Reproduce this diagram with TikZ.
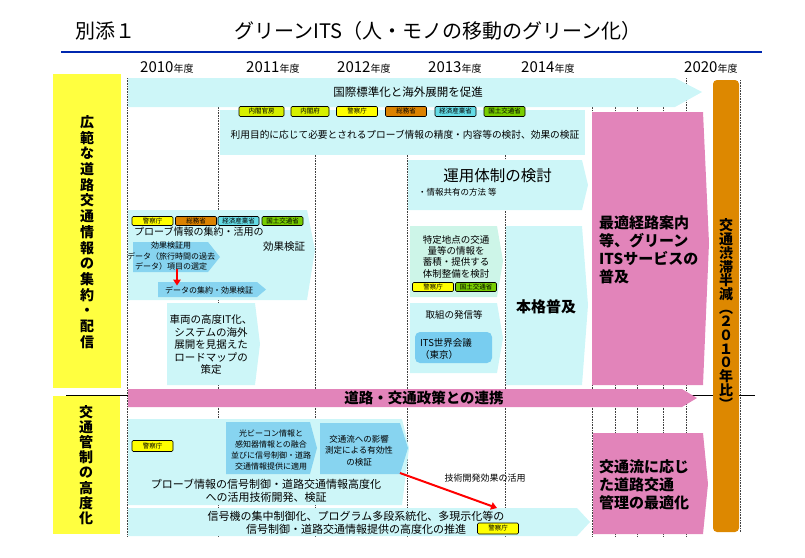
\documentclass[tikz,border=0pt]{standalone}
\usepackage{fontspec}
\setmainfont{Noto Sans CJK JP}
\usepackage{tikz}
\usetikzlibrary{arrows.meta}
\definecolor{itscyan}{RGB}{205,246,248}
\definecolor{deepcyan}{RGB}{135,212,240}
\definecolor{itsblue}{RGB}{120,205,240}
\definecolor{mint}{RGB}{205,245,232}
\definecolor{itspink}{RGB}{226,132,186}
\definecolor{itsorange}{RGB}{221,136,0}
\definecolor{itsyellow}{RGB}{255,255,64}
\definecolor{titleblue}{RGB}{0,40,175}
\definecolor{tagyellow}{RGB}{255,255,0}
\definecolor{taglime}{RGB}{215,240,0}
\definecolor{tagorange}{RGB}{220,130,0}
\definecolor{tagcyan}{RGB}{100,220,230}
\definecolor{taggreen}{RGB}{120,205,0}

\begin{document}
\begin{tikzpicture}[
    x=1pt, y=-1pt,
    every node/.style={inner sep=0pt},
    gridline/.style={densely dotted, line width=0.6pt, black!75},
    yeartxt/.style={font=\fontsize{15}{15}\selectfont},
    vtxt/.style={align=center, font=\fontsize{14}{15.7}\selectfont\bfseries},
    tinytxt/.style={align=center, font=\fontsize{8}{10.5}\selectfont},
    smalltxt/.style={align=center, font=\fontsize{9.5}{11.3}\selectfont},
    bodytxt/.style={align=center, font=\fontsize{11}{13}\selectfont},
    headtxt/.style={align=left, font=\fontsize{15}{18}\selectfont\bfseries},
    tag/.style={rectangle, draw, rounded corners=1.2pt, line width=0.6pt, minimum width=41pt, minimum height=10pt, font=\fontsize{6.5}{7}\selectfont},
    cabinet/.style={tag, fill=taglime},
    npa/.style={tag, fill=tagyellow},
    mic/.style={tag, fill=tagorange},
    meti/.style={tag, fill=tagcyan},
    mlit/.style={tag, fill=taggreen},
    redarrow/.style={red, line width=2pt, -{Triangle[length=6pt,width=7.5pt]}}
]
    \useasboundingbox (0,0) rectangle (805,557);

    % Title
    \node[anchor=west, font=\fontsize{20}{20}\selectfont] (annex) at (75,31) {別添１};
    \node[font=\fontsize{20}{20}\selectfont] (title) at (438,31) {グリーンITS（人・モノの移動のグリーン化）};
    \draw[titleblue, line width=2.2pt] (61,52) -- (762,52);

    % Years
    \node[yeartxt, anchor=west] (y2010) at (140,67) {2010{\fontsize{10}{10}\selectfont 年度}};
    \node[yeartxt, anchor=west] (y2011) at (246,67) {2011{\fontsize{10}{10}\selectfont 年度}};
    \node[yeartxt, anchor=west] (y2012) at (337,67) {2012{\fontsize{10}{10}\selectfont 年度}};
    \node[yeartxt, anchor=west] (y2013) at (428,67) {2013{\fontsize{10}{10}\selectfont 年度}};
    \node[yeartxt, anchor=west] (y2014) at (521,67) {2014{\fontsize{10}{10}\selectfont 年度}};
    \node[yeartxt, anchor=west] (y2020) at (684,67) {2020{\fontsize{10}{10}\selectfont 年度}};

    % Grid
    \draw[gridline] (127,78) -- (127,536);
    \draw[gridline] (218,78) -- (218,536);
    \draw[gridline] (315,78) -- (315,536);
    \draw[gridline] (407,78) -- (407,536);
    \draw[gridline] (505,78) -- (505,536);
    \draw[gridline] (592,78) -- (592,536);
    \draw[gridline] (615,78) -- (615,536);
    \draw[gridline] (637,78) -- (637,536);
    \draw[gridline] (663,78) -- (663,536);
    \draw[gridline] (686,78) -- (686,536);
    \draw[gridline] (740,80) -- (740,532);

    % Left headers
    \fill[itsyellow] (53,74) rectangle (121,388);
    \fill[itsyellow] (53,396) rectangle (120,534);
    \node[vtxt] (wideinfo) at (87,232) {広\\範\\な\\道\\路\\交\\通\\情\\報\\の\\集\\約\\・\\配\\信};
    \node[vtxt, font=\fontsize{14}{15.2}\selectfont\bfseries] (ctrl) at (86,465) {交\\通\\管\\制\\の\\高\\度\\化};
    \draw[line width=0.8pt] (66,395) -- (128,395);
    \draw[line width=0.8pt] (690,395) -- (755,395);

    % Upper section boxes
    \fill[itscyan] (128,78) -- (675,78) -- (702,92) -- (675,107) -- (128,107) -- cycle;
    \fill[itscyan] (220,110) rectangle (585,155);
    \fill[itscyan] (408,160) -- (582,160) -- (588,185) -- (582,210) -- (408,210) -- cycle;
    \fill[itscyan] (128,210) -- (307,210) -- (315,250) -- (307,300) -- (128,300) -- cycle;
    \fill[deepcyan] (133,242) -- (208,242) -- (220,257) -- (208,272) -- (133,272) -- cycle;
    \fill[deepcyan] (158,282) -- (257,282) -- (266,289.5) -- (257,297) -- (158,297) -- cycle;
    \fill[itscyan] (167,303) -- (255,303) -- (260,344) -- (255,385) -- (167,385) -- cycle;
    \fill[mint] (410,226) -- (497,226) -- (503,261) -- (497,297) -- (410,297) -- cycle;
    \fill[itscyan] (410,303) -- (497,303) -- (503,338) -- (497,373) -- (410,373) -- cycle;
    \fill[itsblue, rounded corners=5pt] (415,332) rectangle (492,363);
    \fill[itscyan] (506,226) -- (582,226) -- (588,305) -- (582,385) -- (506,385) -- cycle;
    \fill[itspink] (592,112) -- (703,112) -- (709,243) -- (703,385) -- (592,385) -- cycle;
    \fill[itsorange, rounded corners=4pt] (713,80) rectangle (739,532);

    % Upper section texts
    \node[font=\fontsize{11.5}{13}\selectfont] (promote) at (408,92) {国際標準化と海外展開を促進};
    \node[cabinet, minimum width=45pt] (tcas) at (261.5,111.5) {内閣官房};
    \node[cabinet, minimum width=38pt] (tcao) at (310,111.5) {内閣府};
    \node[npa] (tnpa1) at (357,111.5) {警察庁};
    \node[mic] (tmic1) at (406,111.5) {総務省};
    \node[meti] (tmeti1) at (455.5,111.5) {経済産業省};
    \node[mlit] (tmlit1) at (504.5,111.5) {国土交通省};
    \node[font=\fontsize{9.7}{11}\selectfont] (purpose) at (405,135) {利用目的に応じて必要とされるプローブ情報の精度・内容等の検討、効果の検証};

    \node[font=\fontsize{15.5}{17}\selectfont] (operation) at (497.5,176) {運用体制の検討};
    \node[anchor=west, font=\fontsize{8.5}{10}\selectfont] (sharing) at (418,192) {・情報共有の方法\ 等};

    \node[npa, minimum height=9pt] (tnpa2) at (152.5,221) {警察庁};
    \node[mic, minimum height=9pt] (tmic2) at (196,221) {総務省};
    \node[meti, minimum height=9pt] (tmeti2) at (238.5,221) {経済産業省};
    \node[mlit, minimum height=9pt] (tmlit2) at (282.5,221) {国土交通省};
    \node[anchor=west, font=\fontsize{10}{12}\selectfont] (probe) at (134,232) {プローブ情報の集約・活用の};
    \node[font=\fontsize{10.5}{12}\selectfont] (effect) at (284,247) {効果検証};
    \node[tinytxt] (select) at (171,256.5) {効果検証用\\データ（旅行時間の過去\\データ）項目の選定};
    \node[tinytxt] (aggregate) at (209,290) {データの集約・効果検証};
    \coordinate (selbot) at (177,269);
    \coordinate (aggtop) at (177,285.5);
    \draw[redarrow] (selbot) -- (aggtop);
    \node[align=center, font=\fontsize{10.5}{12.5}\selectfont] (roadmap) at (211,345) {車両の高度IT化、\\システムの海外\\展開を見据えた\\ロードマップの\\策定};

    \node[smalltxt] (spot) at (456,256.5) {特定地点の交通\\量等の情報を\\蓄積・提供する\\体制整備を検討};
    \node[npa, minimum height=9pt] (tnpa3) at (433,287) {警察庁};
    \node[mlit, minimum height=9pt] (tmlit3) at (476,287) {国土交通省};
    \node[smalltxt] (outreach) at (454,315) {取組の発信等};
    \node[smalltxt, anchor=west, align=left, font=\fontsize{9.5}{12}\selectfont] (congress) at (420,349) {ITS世界会議\\（東京）};
    \node[font=\fontsize{15}{17}\selectfont\bfseries] (spread) at (546,307) {本格普及};

    \node[headtxt, anchor=west] (green) at (599,250) {最適経路案内\\等、グリーン\\ITSサービスの\\普及};
    \node[vtxt, font=\fontsize{14}{13.7}\selectfont\bfseries] (halve) at (726,314) {交\\通\\渋\\滞\\半\\減\\︵\\２\\０\\１\\０\\年\\比\\︶};

    % Policy link
    \fill[itspink] (128,389) -- (682,389) -- (697,398) -- (682,407) -- (128,407) -- cycle;
    \node[font=\fontsize{14.5}{16}\selectfont\bfseries] (policy) at (424,398) {道路・交通政策との連携};

    % Lower section boxes
    \fill[itscyan] (128,419) -- (402,419) -- (409,448) -- (402,505) -- (128,505) -- cycle;
    \fill[deepcyan] (226,422) -- (310,422) -- (317,448) -- (310,474) -- (226,474) -- cycle;
    \fill[deepcyan] (320,423) -- (400,423) -- (408,448) -- (400,474) -- (320,474) -- cycle;
    \fill[itscyan] (128,508) -- (577,508) -- (590,522) -- (577,536) -- (128,536) -- cycle;
    \fill[itspink] (593,433) -- (703,433) -- (708,484) -- (703,534) -- (593,534) -- cycle;

    % Lower section texts
    \node[npa, minimum height=11pt] (tnpa4) at (152.5,446) {警察庁};
    \node[tinytxt, font=\fontsize{8}{11}\selectfont] (beacon) at (271,449.5) {光ビーコン情報と\\感知器情報との融合\\並びに信号制御・道路\\交通情報提供に適用};
    \node[tinytxt, font=\fontsize{8.5}{11.5}\selectfont] (measure) at (359,450.5) {交通流への影響\\測定による有効性\\の検証};
    \node[bodytxt] (probectrl) at (266,490.5) {プローブ情報の信号制御・道路交通情報高度化\\への活用技術開発、検証};
    \node[font=\fontsize{9}{10}\selectfont] (techuse) at (485,478) {技術開発効果の活用};
    \coordinate (measout) at (400,473);
    \coordinate (signalin) at (497,508);
    \draw[redarrow] (measout) -- (signalin);
    \node[bodytxt] (signal) at (356,522.5) {信号機の集中制御化、プログラム多段系統化、多現示化等の\\信号制御・道路交通情報提供の高度化の推進};
    \node[npa, minimum height=11pt] (tnpa5) at (498,528.5) {警察庁};
    \node[headtxt, anchor=west] (optimal) at (599,485) {交通流に応じ\\た道路交通\\管理の最適化};
\end{tikzpicture}
\end{document}
